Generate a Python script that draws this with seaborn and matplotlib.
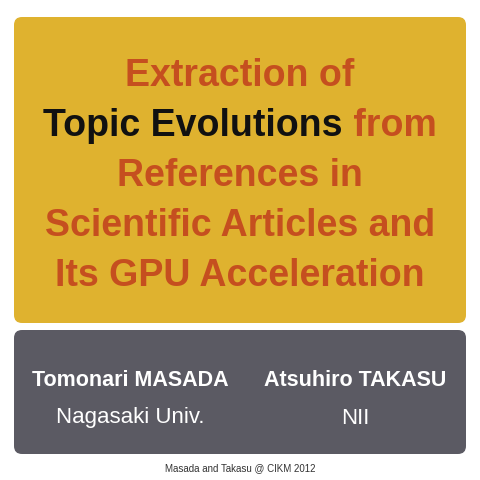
import matplotlib
matplotlib.use("Agg")
import matplotlib.pyplot as plt
import seaborn as sns
from matplotlib.patches import FancyBboxPatch

sns.set_theme(style="white")
plt.rcParams['font.family'] = ['Liberation Sans', 'DejaVu Sans']

title_lines = [[("Extraction of", "#c54f1f")],
               [("Topic Evolutions", "#111111"), (" from", "#c54f1f")],
               [("References in", "#c54f1f")],
               [("Scientific Articles and", "#c54f1f")],
               [("Its GPU Acceleration", "#c54f1f")]]
authors = ["Tomonari MASADA", "Atsuhiro TAKASU"]
affils = ["Nagasaki Univ.", "NII"]
footer = "Masada and Takasu @ CIKM 2012"

fig = plt.figure(figsize=(4.8, 4.8), dpi=100)
ax = fig.add_axes([0, 0, 1, 1])
ax.set_xlim(0, 480); ax.set_ylim(480, 0); ax.axis("off")
ax.add_patch(FancyBboxPatch((14, 17), 452, 306, boxstyle="round,pad=0,rounding_size=8",
                            fc="#dfb22f", ec="none"))
ax.add_patch(FancyBboxPatch((14, 330), 452, 124, boxstyle="round,pad=0,rounding_size=8",
                            fc="#5b5a63", ec="none"))
r = fig.canvas.get_renderer()
ys = [76, 126, 176, 226, 276]
for y, parts in zip(ys, title_lines):
    texts = [ax.text(0, y, s, color=c, fontsize=27, fontweight="bold", va="center", ha="left")
             for s, c in parts]
    widths = [t.get_window_extent(r).width for t in texts]
    x = 240 - sum(widths) / 2
    for t, w in zip(texts, widths):
        t.set_x(x); x += w
for x, a, f in zip([130, 355], authors, affils):
    ax.text(x, 381, a, color="white", fontsize=15.5, fontweight="bold", ha="center", va="center")
    ax.text(x, 418, f, color="white", fontsize=16, ha="center", va="center")
ax.text(240, 468, footer, color="#333333", fontsize=7, ha="center", va="center")
fig.savefig("out.png", dpi=100, facecolor="white")
